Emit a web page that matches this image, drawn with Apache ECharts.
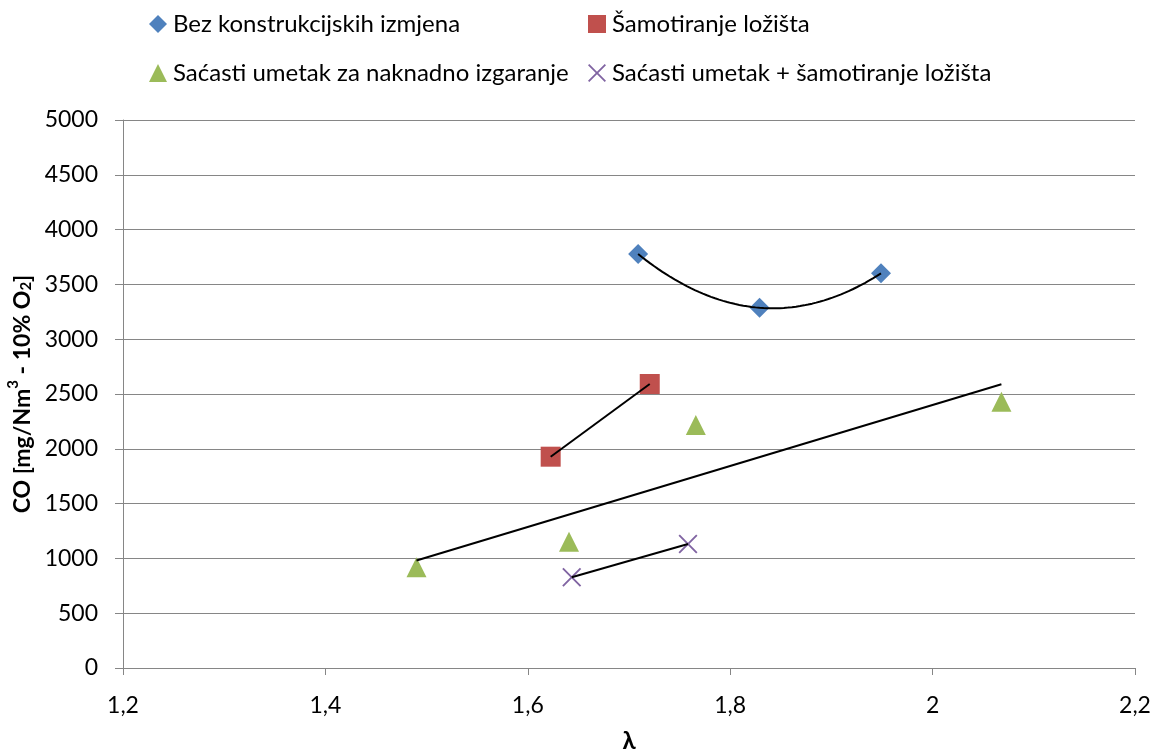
<!DOCTYPE html>
<html>
<head>
<meta charset="utf-8">
<script src="https://cdn.jsdelivr.net/npm/echarts@6/dist/echarts.min.js"></script>
<style>html,body{margin:0;padding:0;background:#fff;}#c{width:1158px;height:754px;}</style>
</head>
<body>
<div id="c"></div>
<script>
const seriesNames = ['Bez konstrukcijskih izmjena', 'Šamotiranje ložišta', 'Saćasti umetak za naknadno izgaranje', 'Saćasti umetak + šamotiranje ložišta'];
const blueX = [1.709, 1.829, 1.949];
const blueY = [3777, 3287, 3601];
const redX = [1.6226, 1.7205];
const redY = [1928, 2591];
const greenX = [1.490, 1.6407, 1.766, 2.068];
const greenY = [919, 1152, 2217, 2430];
const purpleX = [1.6434, 1.7583];
const purpleY = [828, 1131];
const xTicks = [1.2, 1.4, 1.6, 1.8, 2.0, 2.2];
const xTickLabels = ['1,2', '1,4', '1,6', '1,8', '2', '2,2'];
const yTickLabels = ['0','500','1000','1500','2000','2500','3000','3500','4000','4500','5000'];

const FONT = 'Lato';
const pairs = (xs, ys) => xs.map((x, i) => [x, ys[i]]);

function linearFit(xs, ys) {
  const n = xs.length;
  const mx = xs.reduce((a, b) => a + b, 0) / n;
  const my = ys.reduce((a, b) => a + b, 0) / n;
  let sxy = 0, sxx = 0;
  for (let i = 0; i < n; i++) { sxy += (xs[i] - mx) * (ys[i] - my); sxx += (xs[i] - mx) ** 2; }
  const b = sxy / sxx, a = my - b * mx;
  const x0 = Math.min(...xs), x1 = Math.max(...xs);
  return [[x0, a + b * x0], [x1, a + b * x1]];
}
function quadFit3(xs, ys) {
  const f = x => {
    let s = 0;
    for (let i = 0; i < 3; i++) {
      let t = ys[i];
      for (let j = 0; j < 3; j++) if (j !== i) t *= (x - xs[j]) / (xs[i] - xs[j]);
      s += t;
    }
    return s;
  };
  const x0 = Math.min(...xs), x1 = Math.max(...xs), out = [];
  for (let k = 0; k <= 60; k++) { const x = x0 + (x1 - x0) * k / 60; out.push([x, f(x)]); }
  return out;
}

const xSymbol = 'path://M0,0.7 L0.7,0 L5,4.3 L9.3,0 L10,0.7 L5.7,5 L10,9.3 L9.3,10 L5,5.7 L0.7,10 L0,9.3 L4.3,5 Z';
const colors = ['#4F81BD', '#C0504D', '#9BBB59', '#8064A2'];
const symbols = ['diamond', 'rect', 'triangle', xSymbol];
const sizes = [20, 20, 20, 19];
const dataSets = [pairs(blueX, blueY), pairs(redX, redY), pairs(greenX, greenY), pairs(purpleX, purpleY)];

const scatterSeries = seriesNames.map((name, i) => ({
  name, type: 'scatter', data: dataSets[i], symbol: symbols[i], symbolSize: sizes[i],
  itemStyle: { color: colors[i], opacity: 1 }, z: 2, emphasis: { disabled: true }
}));
const trendData = [quadFit3(blueX, blueY), linearFit(redX, redY), linearFit(greenX, greenY), linearFit(purpleX, purpleY)];
const trendSeries = trendData.map((d, i) => ({
  name: 'trend' + i, type: 'line', data: d, showSymbol: false, symbol: 'none', smooth: false,
  lineStyle: { color: '#000', width: 2 }, z: 5, silent: true
}));

const legendPos = [[144, 7], [583, 7], [144, 56], [583, 56]];
const legends = seriesNames.map((name, i) => ({
  data: [name], left: legendPos[i][0], top: legendPos[i][1], itemWidth: 18, itemHeight: 18, itemGap: 0,
  textStyle: { fontFamily: FONT, fontSize: 24, color: '#000', padding: [0, 0, 0, 1] }, selectedMode: false
}));

const chart = echarts.init(document.getElementById('c'), null, { renderer: 'canvas' });
chart.setOption({
  animation: false,
  backgroundColor: '#fff',
  legend: legends,
  grid: { left: 123, right: 23, top: 120, bottom: 86, containLabel: false, outerBoundsMode: 'none' },
  xAxis: {
    type: 'value', min: 1.2, max: 2.2, interval: 0.2,
    name: 'λ', nameLocation: 'middle', nameGap: 61,
    nameTextStyle: { fontFamily: FONT, fontSize: 24, fontWeight: 'bold', color: '#000' },
    axisLine: { show: true, lineStyle: { color: '#868686', width: 1 } },
    axisTick: { show: true, inside: false, length: 7, lineStyle: { color: '#868686' } },
    axisLabel: { margin: 26, fontFamily: FONT, fontSize: 23, color: '#000',
      formatter: v => { const k = xTicks.findIndex(t => Math.abs(t - v) < 1e-6); return k >= 0 ? xTickLabels[k] : ''; } },
    splitLine: { show: false }
  },
  yAxis: {
    type: 'value', min: 0, max: 5000, interval: 500,
    name: '{b|CO [mg/Nm}{sup|3}{b| - 10% O}{sub|2}{b|]}', nameLocation: 'middle', nameGap: 72, nameRotate: 90,
    nameTextStyle: {
      fontFamily: FONT, fontSize: 23, fontWeight: 'bold', color: '#000',
      rich: {
        b: { fontFamily: FONT, fontSize: 23, fontWeight: 'bold', color: '#000', verticalAlign: 'bottom', lineHeight: 28 },
        sup: { fontFamily: FONT, fontSize: 15, fontWeight: 'bold', color: '#000', verticalAlign: 'top', lineHeight: 28, padding: [0, 0, 9, 0] },
        sub: { fontFamily: FONT, fontSize: 15, fontWeight: 'bold', color: '#000', verticalAlign: 'bottom', lineHeight: 28, padding: [7, 0, 0, 0] }
      }
    },
    axisLine: { show: true, lineStyle: { color: '#868686', width: 1 } },
    axisTick: { show: true, inside: false, length: 8, lineStyle: { color: '#868686' } },
    axisLabel: { margin: 25, fontFamily: FONT, fontSize: 23, color: '#000',
      formatter: v => yTickLabels[Math.round(v / 500)] },
    splitLine: { show: true, lineStyle: { color: '#868686', width: 1 } }
  },
  series: scatterSeries.concat(trendSeries)
});
</script>
</body>
</html>
